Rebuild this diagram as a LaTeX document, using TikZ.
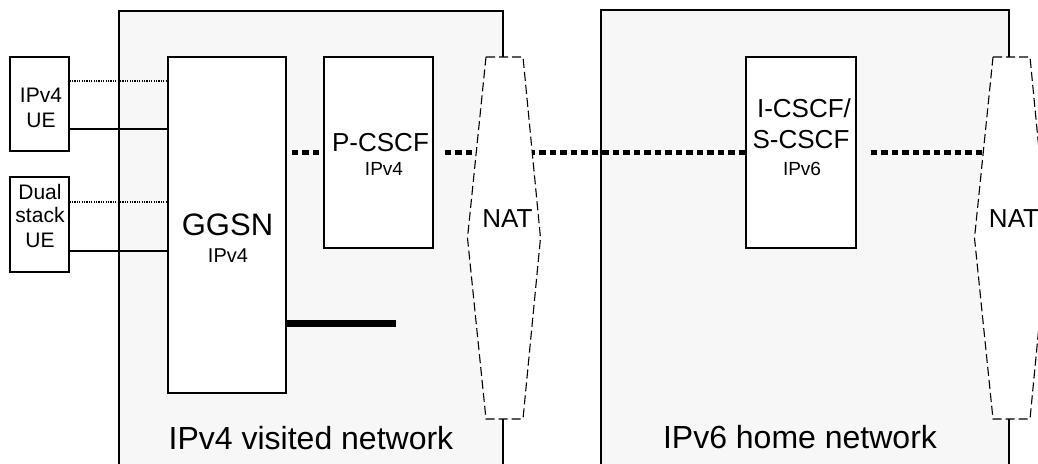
\documentclass[tikz,border=0pt]{standalone}
\usepackage{fontspec}
\setmainfont{Liberation Sans}
\newcommand\myfs[1]{\fontsize{#1pt}{#1pt}\selectfont}
\definecolor{netgray}{HTML}{F7F7F7}
\begin{document}
\begin{tikzpicture}[x=1pt,y=-1pt,
  netbox/.style={draw=black, fill=netgray, line width=1.2pt, inner sep=0pt},
  elem/.style={draw=black, fill=white, line width=1.2pt, inner sep=0pt},
  natshape/.style={draw=black, fill=white, line width=1.1pt, dash pattern=on 9pt off 4pt},
  lbl/.style={anchor=base, inner sep=0pt},
  thin dots/.style={line width=1.2pt, dash pattern=on 1.2pt off 1.2pt},
  solidlink/.style={line width=1.3pt},
  bigdots/.style={line width=5pt, dash pattern=on 6.5pt off 4pt},
  bigline/.style={line width=7pt}]
\useasboundingbox (0,0) rectangle (1038,463);
\clip (0,0) rectangle (1038,463);

% network areas
\node[netbox, minimum width=384pt, minimum height=455pt] (visited) at (311,238.5) {};
\node[netbox, minimum width=408pt, minimum height=456pt] (home) at (805,238) {};

% elements
\node[elem, minimum width=59pt, minimum height=94pt] (ue4) at (39.5,104) {};
\node[elem, minimum width=59pt, minimum height=95pt] (ueds) at (39.5,224.5) {};
\node[elem, minimum width=118pt, minimum height=336pt] (ggsn) at (227,225) {};
\node[elem, minimum width=109pt, minimum height=191pt] (pcscf) at (378.5,152.5) {};
\node[elem, minimum width=110pt, minimum height=191pt] (icscf) at (801,152.5) {};

% UE links
\coordinate (d1) at (69,81);
\coordinate (s1) at (69,129);
\coordinate (d2) at (69,202);
\coordinate (s2) at (69,251);
\draw[thin dots] (ue4.east |- d1) -- (ggsn.west |- d1);
\draw[solidlink] (ue4.east |- s1) -- (ggsn.west |- s1);
\draw[thin dots] (ueds.east |- d2) -- (ggsn.west |- d2);
\draw[solidlink] (ueds.east |- s2) -- (ggsn.west |- s2);

% thick stub
\coordinate (stub) at (396,323);
\draw[bigline] (ggsn.east |- stub) -- (stub);

% NAT reference points
\coordinate (nat1) at (504.5,238);
\coordinate (nat2) at (1011.5,238);

% signalling path
\draw[bigdots, shorten <=5pt] (ggsn.east |- pcscf.west) -- (pcscf.west);
\draw[bigdots, shorten <=11pt] (pcscf.east) -- (icscf.west);
\draw[bigdots, shorten <=14pt] (icscf.east) -- (nat2 |- icscf.east);

% NATs
\draw[natshape] (nat1) ++(-18.5,-181) -- ++(37,0) -- ++(17.5,181) -- ++(-17.5,181) -- ++(-37,0) -- ++(-18.5,-181) -- cycle;
\draw[natshape] (nat2) ++(-18.5,-181) -- ++(37,0) -- ++(17.5,181) -- ++(-17.5,181) -- ++(-37,0) -- ++(-18.5,-181) -- cycle;

% labels
\node[lbl, font=\myfs{21}] (ue4a) at (41,102) {IPv4};
\node[lbl, font=\myfs{21}] (ue4b) at (41,127) {UE};
\node[lbl, font=\myfs{21}] (uedsa) at (40,199) {Dual};
\node[lbl, font=\myfs{21}] (uedsb) at (40,222) {stack};
\node[lbl, font=\myfs{21}] (uedsc) at (40,247) {UE};
\node[lbl, font=\myfs{31}] (ggsna) at (227.5,235) {GGSN};
\node[lbl, font=\myfs{20}] (ggsnb) at (228,262) {IPv4};
\node[lbl, font=\myfs{26}] (pcscfa) at (380.5,151) {P-CSCF};
\node[lbl, font=\myfs{19}] (pcscfb) at (384,175) {IPv4};
\node[lbl, font=\myfs{26}] (icscfa) at (804,117) {I-CSCF/};
\node[lbl, font=\myfs{26}] (icscfb) at (801,148) {S-CSCF};
\node[lbl, font=\myfs{19}] (icscfc) at (802,175) {IPv6};
\node[lbl, font=\myfs{26}] (nat1t) at (507.5,227) {NAT};
\node[lbl, font=\myfs{26}] (nat2t) at (1014,227) {NAT};
\node[lbl, font=\myfs{32}] (vist) at (311,449) {IPv4 visited network};
\node[lbl, font=\myfs{32}] (homet) at (800,448) {IPv6 home network};
\end{tikzpicture}
\end{document}
